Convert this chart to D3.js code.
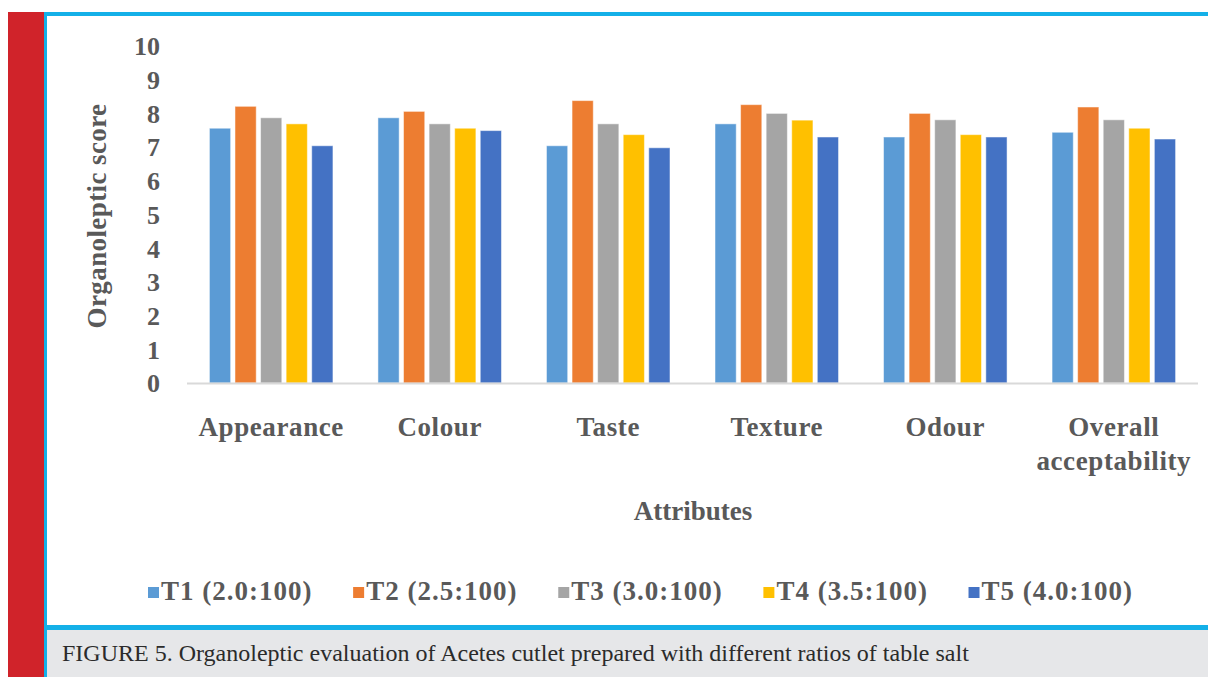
<!DOCTYPE html>
<html>
<head>
<meta charset="utf-8">
<script src="https://cdn.jsdelivr.net/npm/d3@7"></script>
<style>
  body { margin: 0; background: #fff; }
  svg { display: block; }
</style>
</head>
<body>
<svg id="chart" width="1208" height="677"></svg>
<script>
// attributes on the x axis
const attributes = ['Appearance', 'Colour', 'Taste', 'Texture', 'Odour', 'Overall acceptability'];
// salt ratio treatments
const treatments = ['T1 (2.0:100)', 'T2 (2.5:100)', 'T3 (3.0:100)', 'T4 (3.5:100)', 'T5 (4.0:100)'];
const colors = ['#5b9bd5', '#ed7d31', '#a5a5a5', '#ffc000', '#4472c4'];

// scores per treatment, same order as attributes
const t1Scores = [7.56, 7.87, 7.04, 7.69, 7.30, 7.44];
const t2Scores = [8.21, 8.06, 8.38, 8.26, 8.00, 8.19];
const t3Scores = [7.87, 7.69, 7.69, 8.00, 7.81, 7.81];
const t4Scores = [7.69, 7.56, 7.37, 7.80, 7.37, 7.56];
const t5Scores = [7.04, 7.49, 6.98, 7.30, 7.30, 7.24];
const yTicks = [0, 1, 2, 3, 4, 5, 6, 7, 8, 9, 10];

const seriesScores = [t1Scores, t2Scores, t3Scores, t4Scores, t5Scores];
const textColor = '#595959';
const font = '"Liberation Serif", "Times New Roman", serif';

const svg = d3.select('#chart');

// page frame: red strip, blue rules, grey caption box
svg.append('rect').attr('x', 8).attr('y', 12).attr('width', 36).attr('height', 665).attr('fill', '#d0232a');
svg.append('rect').attr('x', 44).attr('y', 12).attr('width', 1164).attr('height', 4).attr('fill', '#14b0e8');
svg.append('rect').attr('x', 44).attr('y', 12).attr('width', 3).attr('height', 665).attr('fill', '#14b0e8');
svg.append('rect').attr('x', 47).attr('y', 630).attr('width', 1161).attr('height', 47).attr('fill', '#e6e7e9');
svg.append('rect').attr('x', 44).attr('y', 625).attr('width', 1164).attr('height', 5).attr('fill', '#14b0e8');

const x0 = d3.scaleBand()
    .domain(attributes)
    .range([187, 1198])
    .paddingInner(0.267)
    .paddingOuter(0.133);

const x1 = d3.scaleBand()
    .domain(treatments)
    .range([0, x0.bandwidth()])
    .paddingInner(0.17);

const y = d3.scaleLinear()
    .domain([0, 10])
    .range([383, 46]);

// bars
const groups = svg.append('g').selectAll('g')
    .data(attributes)
    .enter()
    .append('g')
    .attr('transform', d => `translate(${x0(d)},0)`);

groups.selectAll('rect')
    .data((d, i) => treatments.map((t, k) => ({ t: t, k: k, v: seriesScores[k][i] })))
    .enter()
    .append('rect')
    .attr('x', d => x1(d.t))
    .attr('y', d => y(d.v))
    .attr('width', x1.bandwidth())
    .attr('height', d => y(0) - y(d.v))
    .attr('fill', d => colors[d.k])
    .attr('stroke', '#ffffff')
    .attr('stroke-opacity', 0.5)
    .attr('stroke-width', 1);

// x axis line
svg.append('line')
    .attr('x1', 187).attr('x2', 1198)
    .attr('y1', y(0) + 0.5).attr('y2', y(0) + 0.5)
    .attr('stroke', '#d9d9d9')
    .attr('stroke-width', 2);

// y tick labels
svg.append('g').selectAll('text')
    .data(yTicks)
    .enter()
    .append('text')
    .attr('x', 160)
    .attr('y', d => y(d))
    .attr('dy', '0.36em')
    .attr('text-anchor', 'end')
    .attr('font-family', font)
    .attr('font-weight', 'bold')
    .attr('font-size', 26)
    .attr('fill', textColor)
    .text(d => d);

// y axis title
svg.append('text')
    .attr('transform', 'translate(106,216) rotate(-90)')
    .attr('text-anchor', 'middle')
    .attr('font-family', font)
    .attr('font-weight', 'bold')
    .attr('font-size', 27)
    .attr('letter-spacing', 0.4)
    .attr('fill', textColor)
    .text('Organoleptic score');

// category labels (Overall acceptability on two lines)
const catLabels = svg.append('g').selectAll('text')
    .data(attributes)
    .enter()
    .append('text')
    .attr('x', d => x0(d) + x0.bandwidth() / 2)
    .attr('y', 436)
    .attr('text-anchor', 'middle')
    .attr('font-family', font)
    .attr('font-weight', 'bold')
    .attr('font-size', 27)
    .attr('letter-spacing', 0.6)
    .attr('fill', textColor);

catLabels.each(function(d) {
    const words = d === 'Overall acceptability' ? ['Overall', 'acceptability'] : [d];
    d3.select(this).selectAll('tspan')
        .data(words)
        .enter()
        .append('tspan')
        .attr('x', x0(d) + x0.bandwidth() / 2)
        .attr('dy', (w, i) => i === 0 ? 0 : 34)
        .text(w => w);
});

// x axis title
svg.append('text')
    .attr('x', 693)
    .attr('y', 520)
    .attr('text-anchor', 'middle')
    .attr('font-family', font)
    .attr('font-weight', 'bold')
    .attr('font-size', 27)
    .attr('fill', textColor)
    .text('Attributes');

// legend, spread between the reference's left and right ends
const legend = svg.append('g');
const items = legend.selectAll('g')
    .data(treatments)
    .enter()
    .append('g');

items.append('rect')
    .attr('width', 11)
    .attr('height', 11)
    .attr('y', -13)
    .attr('fill', (d, i) => colors[i]);

items.append('text')
    .attr('x', 13)
    .attr('font-family', font)
    .attr('font-weight', 'bold')
    .attr('font-size', 27)
    .attr('letter-spacing', 1)
    .attr('fill', textColor)
    .text(d => d);

const legendLeft = 148, legendRight = 1133;
const widths = [];
items.each(function() { widths.push(this.getBBox().width); });
const itemGap = (legendRight - legendLeft - d3.sum(widths)) / (widths.length - 1);
let cursor = legendLeft;
items.attr('transform', (d, i) => {
    const tx = cursor;
    cursor += widths[i] + itemGap;
    return `translate(${tx},600)`;
});

// caption
svg.append('text')
    .attr('x', 62)
    .attr('y', 661)
    .attr('font-family', font)
    .attr('font-size', 24)
    .attr('fill', '#2b2b2b')
    .text('FIGURE 5. Organoleptic evaluation of Acetes cutlet prepared with different ratios of table salt');
</script>
</body>
</html>
